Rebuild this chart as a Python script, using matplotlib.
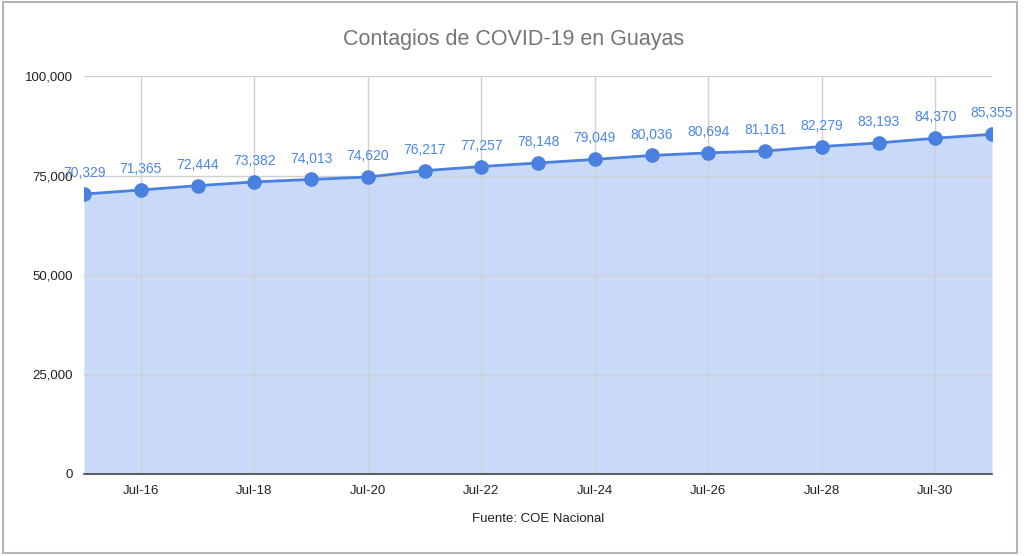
import numpy as np
import matplotlib
matplotlib.use('Agg')
import matplotlib.pyplot as plt
from matplotlib.ticker import FuncFormatter, MultipleLocator
from matplotlib.patches import Rectangle

plt.rcParams['font.family'] = ['Liberation Sans', 'DejaVu Sans']

# data
dias = ['Jul-15', 'Jul-16', 'Jul-17', 'Jul-18', 'Jul-19', 'Jul-20', 'Jul-21', 'Jul-22', 'Jul-23',
        'Jul-24', 'Jul-25', 'Jul-26', 'Jul-27', 'Jul-28', 'Jul-29', 'Jul-30', 'Jul-31']
contagios = [70329, 71365, 72444, 73382, 74013, 74620, 76217, 77257, 78148,
             79049, 80036, 80694, 81161, 82279, 83193, 84370, 85355]

titulo = 'Contagios de COVID-19 en Guayas'
fuente = 'Fuente: COE Nacional'

azul = '#4a80e0'
x = np.arange(len(dias))

fig = plt.figure(figsize=(10.24, 5.56), dpi=100)
ax = fig.add_axes([84 / 1024, 1 - 474 / 556, (992 - 84) / 1024, (474 - 76) / 556])

ax.fill_between(x, 0, contagios, color='#4a86e8', alpha=0.3, lw=0, zorder=2)
ax.plot(x, contagios, color=azul, lw=2, marker='o', markersize=9.5,
        markerfacecolor=azul, markeredgecolor=azul, zorder=4)
for xi, v in zip(x, contagios):
    ax.annotate('{:,}'.format(v), (xi, v), xytext=(0, 10), textcoords='offset points',
                ha='center', va='bottom', fontsize=10, color='#4a86e8', zorder=5)

ax.set_xlim(0, len(dias) - 1)
ax.set_ylim(0, 100000)
ax.yaxis.set_major_locator(MultipleLocator(25000))
ax.yaxis.set_major_formatter(FuncFormatter(lambda v, p: '{:,}'.format(int(v))))
ax.set_xticks(x[1::2])
ax.set_xticklabels(dias[1::2])
ax.tick_params(axis='both', length=0, labelsize=9.5, colors='#222222')
ax.tick_params(axis='x', pad=8)
ax.tick_params(axis='y', pad=8)

ax.grid(True, color='#d0d0d0', lw=1, zorder=1)
ax.set_axisbelow(False)
for s in ['left', 'right', 'top']:
    ax.spines[s].set_visible(False)
ax.spines['bottom'].set_color('#444444')
ax.spines['bottom'].set_linewidth(1.2)
ax.spines['bottom'].set_zorder(6)

fig.text(514 / 1024, 1 - 40 / 556, titulo, ha='center', va='center', fontsize=15.5, color='#757575')
fig.text(538 / 1024, 1 - 519 / 556, fuente, ha='center', va='center', fontsize=9.5, color='#222222')

# marco de la captura
fig.patches.append(Rectangle((3 / 1024, 3 / 556), 1014 / 1024, 551 / 556, transform=fig.transFigure,
                             fill=False, edgecolor='#b5b5b5', lw=1.5))

fig.savefig('out.png', dpi=100, facecolor='white')
